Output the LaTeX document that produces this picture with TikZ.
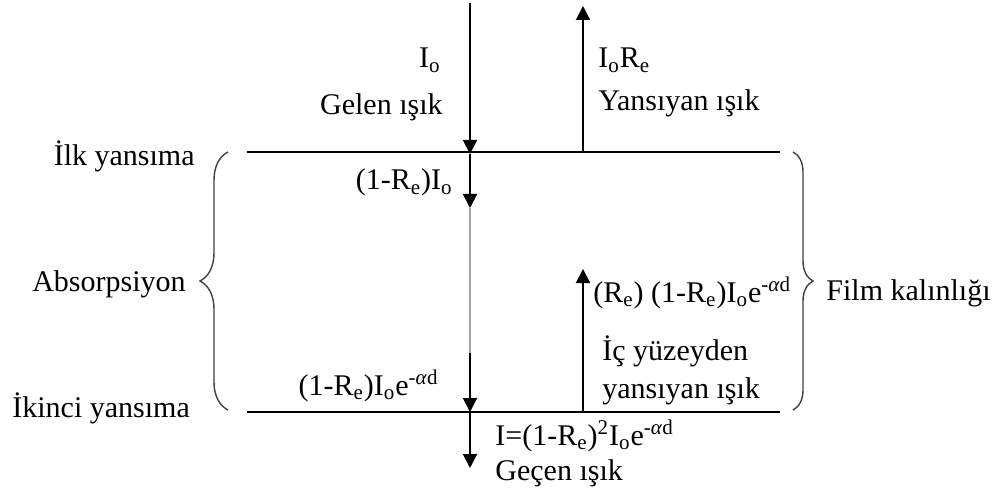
\documentclass[tikz,border=0pt]{standalone}
\usepackage{fontspec}
\setmainfont{Liberation Serif}
\usetikzlibrary{arrows.meta, decorations.pathreplacing, positioning}

\newcommand{\Iosub}{I\textsubscript{o}}
\newcommand{\Resub}{R\textsubscript{e}}
\newcommand{\eminus}{e\textsuperscript{-\textit{α}d}}

\begin{document}
\begin{tikzpicture}[x=0.5pt, y=-0.5pt,
		every node/.style={font=\fontsize{15}{18}\selectfont, inner sep=0pt},
		ray/.style={line width=1pt, -{Triangle[length=7pt, width=7pt]}},
		surface/.style={line width=1pt},
		faint/.style={line width=0.6pt, gray!70},
		bigbrace/.style={decorate, decoration={brace, amplitude=#1}, line width=0.7pt, black!75}
		]
		\useasboundingbox (0,0) rectangle (1004,491);
		
		% Film surfaces
		\coordinate (topW) at (247,152);
		\coordinate (topE) at (780,152);
		\coordinate (botW) at (247,412);
		\coordinate (botE) at (780,412);
		\draw[surface] (topW) -- (topE);
		\draw[surface] (botW) -- (botE);
		
		% Beam going through the film
		\coordinate (src) at (470,3);
		\coordinate (hitA) at (470,154);
		\coordinate (inA) at (470,208);
		\coordinate (inB) at (470,353);
		\coordinate (hitB) at (470,412);
		\coordinate (exit) at (470,468);
		\draw[ray] (src) -- (hitA);
		\draw[ray] (hitA) -- (inA);
		\draw[faint] (inA) -- (inB);
		\draw[ray] (inB) -- (hitB);
		\draw[ray] (hitB) -- (exit);
		
		% Reflected beams
		\coordinate (reflA) at (583,152);
		\coordinate (upA) at (583,6);
		\coordinate (reflB) at (583,412);
		\coordinate (upB) at (583,269);
		\draw[ray] (reflA) -- (upA);
		\draw[ray] (reflB) -- (upB);
		
		% Braces
		\coordinate (absTop) at (228,152);
		\coordinate (absBot) at (228,410);
		\coordinate (filmTop) at (793,152);
		\coordinate (filmBot) at (793,410);
		\draw[bigbrace=14pt] (absBot) -- (absTop);
		\draw[bigbrace=10pt] (filmTop) -- (filmBot);
		
		% Labels
		\node[anchor=base east] (io) at (441,68) {\Iosub};
		\node[anchor=base east] (gelen) at (443,115) {Gelen ışık};
		\node[anchor=base west] (iore) at (598,68) {\Iosub\Resub};
		\node[anchor=base west] (yansiyan) at (598,111) {Yansıyan ışık};
		\node[anchor=base east] (ilk) at (195,166) {İlk yansıma};
		\node[anchor=base east] (gecisA) at (453,190) {(1-\Resub)\Iosub};
		\node[anchor=base east] (absorp) at (186,292) {Absorpsiyon};
		\node[anchor=base west] (icrefl) at (593,302) {(\Resub) (1-\Resub)\Iosub\eminus};
		\node[anchor=base west] (film) at (826,300) {Film kalınlığı};
		\node[anchor=base west] (icyuz) at (602,360) {İç yüzeyden};
		\node[anchor=base west] (icyans) at (602,398) {yansıyan ışık};
		\node[anchor=base east] (gecisB) at (439,395) {(1-\Resub)\Iosub\eminus};
		\node[anchor=base west] (ikinci) at (12,417) {İkinci yansıma};
		\node[anchor=base west] (cikis) at (495,445) {I=(1-\Resub)\textsuperscript{2}\Iosub\eminus};
		\node[anchor=base west] (gecen) at (495,480) {Geçen ışık};
		
	\end{tikzpicture}
\end{document}
